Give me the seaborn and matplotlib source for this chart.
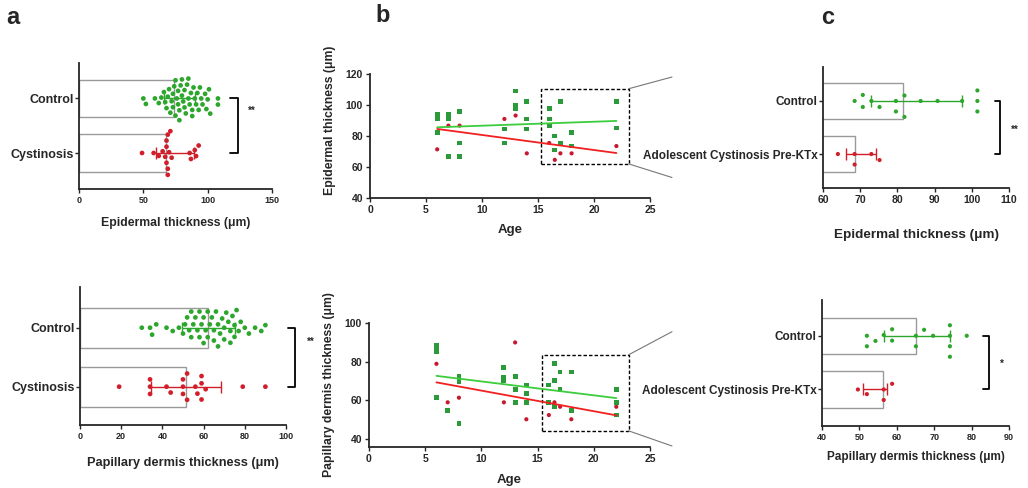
import numpy as np
import pandas as pd
import matplotlib
matplotlib.use("Agg")
import matplotlib.pyplot as plt
import seaborn as sns
from matplotlib.patches import Rectangle, ConnectionPatch

# ! Datos --------------------------------------------------------------------

grupos_a = ["Control", "Cystinosis"]
grupos_c = ["Control", "Adolescent Cystinosis Pre-KTx"]

# ? a) grosor epidermico (um)
epi_control = [50, 52, 59, 62, 64, 66, 67, 68, 69, 70, 71, 72, 73, 73, 74, 75, 75, 76, 77, 77,
               78, 78, 79, 80, 80, 81, 82, 82, 83, 84, 85, 85, 86, 87, 88, 88, 89, 90, 91, 92,
               93, 94, 95, 96, 98, 99, 100, 101, 102, 108, 108]
epi_cyst = [49, 58, 62, 65, 67, 68, 68, 68, 69, 69, 69, 70, 71, 72, 86, 87, 90, 91, 93]
epi_barra = [74, 68]
epi_err_lo = [66, 60]
epi_err_hi = [90, 89.6]

# ? a) grosor dermis papilar (um)
pap_control = [30, 34, 35, 37, 42, 45, 48, 50, 51, 52, 53, 54, 54, 55, 56, 57, 58, 58, 59, 60,
               60, 61, 62, 62, 63, 64, 65, 65, 66, 67, 67, 68, 69, 70, 70, 71, 72, 73, 73, 74,
               75, 75, 76, 77, 78, 80, 82, 85, 88, 90]
pap_cyst = [19, 34, 34, 34, 42, 44, 50, 50, 50, 52, 52, 56, 57, 59, 59, 59, 61, 79, 90]
pap_barra = [62, 51.3]
pap_err_lo = [49.4, 34.4]
pap_err_hi = [75, 68.3]

# ? b) grosor vs edad
edad_ctrl_epi = [6, 6, 6, 7, 7, 7, 8, 8, 8, 12, 12, 13, 13, 13, 14, 14, 14, 16, 16, 16,
                 16.5, 16.5, 17, 17, 18, 18, 22, 22]
epi_ctrl_b = [94.1, 91, 82.2, 94.1, 91, 66.6, 95.8, 75.5, 66.6, 84.5, 75.5, 109, 99.7, 97.7,
              102, 91, 84.5, 97.7, 91, 86.5, 80, 71, 102, 75.5, 82.2, 73.5, 102, 85.2]
edad_cyst = [6, 7, 8, 12, 13, 14, 16, 16.5, 17, 18, 22]
epi_cyst_b = [71.4, 86.7, 86.7, 91, 93.2, 68.8, 75.5, 64.6, 68.8, 68.8, 73.5]

edad_ctrl_pap = [6, 6, 6, 6, 7, 8, 8, 8, 8, 12, 12, 12, 13, 13, 13, 14, 14, 14, 16, 16,
                 16.5, 16.5, 16.5, 17, 17, 18, 18, 22, 22, 22]
pap_ctrl_b = [88.3, 86.6, 85, 61.2, 54.4, 72.5, 70.8, 69.4, 47.8, 76.9, 72, 70, 72.2, 65.6,
              58.8, 67.8, 63.5, 58.8, 67.8, 58.8, 78.8, 70, 56.5, 74.6, 65.6, 74.6, 54.4,
              65.6, 58.8, 52.2]
pap_cyst_b = [78.8, 58.8, 61.2, 58.8, 89.9, 50, 52.2, 58.8, 56.5, 50, 56.5]

# ? c) adolescentes
epi_ctrl_c = [68.5, 70.7, 70.7, 73, 75.2, 79.6, 79.6, 81.9, 81.9, 86.25, 90.8, 97.4,
              101.5, 101.5, 101.5]
epi_cyst_c = [64, 68.5, 68.5, 73, 75.2]
epi_barra_c = [81.6, 68.5]
epi_err_lo_c = [73, 66.25]
epi_err_hi_c = [97.4, 74.3]

pap_ctrl_c = [52, 52, 54.3, 56.5, 58.75, 58.75, 65.1, 65.1, 67.3, 69.7, 74.2, 74.2, 74.2,
              74.2, 78.7]
pap_cyst_c = [49.6, 52, 56.5, 56.5, 58.75]
pap_barra_c = [65.1, 56.3]
pap_err_lo_c = [56.5, 51]
pap_err_hi_c = [74.2, 57.5]

# ! Estilo ----------------------------------------------------------------------

sns.set_style("ticks")
plt.rcParams["font.family"] = ["Liberation Sans", "DejaVu Sans"]
plt.rcParams["font.weight"] = "bold"
plt.rcParams["axes.labelweight"] = "bold"
plt.rcParams["axes.linewidth"] = 1.3

verde = "#2da62d"
rojo = "#d01f2a"
verde_b = "#2a9a3a"
rojo_b = "#c81830"
gris = "#9a9a9a"

W, H = 1028, 488
fig = plt.figure(figsize=(W / 100, H / 100), dpi=100)


def nuevo_eje(izq, arriba, der, abajo):
    return fig.add_axes([izq / W, 1 - abajo / H, (der - izq) / W, (abajo - arriba) / H])


def panel_barras(ax, grupos, ctrl, cyst, barra, lo, hi, tam, borde):
    df = pd.DataFrame({"valor": ctrl + cyst,
                       "grupo": [grupos[0]] * len(ctrl) + [grupos[1]] * len(cyst)})
    sns.barplot(x=barra, y=grupos, orient="h", order=grupos, color="white", edgecolor=gris,
                linewidth=1, width=0.68, saturation=1, errorbar=None, ax=ax)
    colores = [verde, rojo]
    for i in range(2):
        ax.errorbar(x=barra[i], y=i, xerr=[[barra[i] - lo[i]], [hi[i] - barra[i]]],
                    fmt="none", ecolor=colores[i], elinewidth=1, capsize=4.5, capthick=1,
                    zorder=2.5)
    # el borde invisible solo separa los puntos del enjambre
    sns.swarmplot(data=df, x="valor", y="grupo", hue="grupo", order=grupos, hue_order=grupos,
                  palette=colores, size=tam, linewidth=borde, edgecolor="none",
                  legend=False, ax=ax)
    ax.set_ylabel("")
    sns.despine(ax=ax)


def corchete(ax, x0, x1, texto, xt, yt, fs):
    ax.plot([x0, x1, x1, x0], [0, 0, 1, 1], color="black", lw=1.3, clip_on=False)
    ax.text(xt, yt, texto, ha="center", va="center", fontsize=fs)


# ! Panel a ----------------------------------------------------------------------

ax1 = nuevo_eje(79, 63, 272, 189)
panel_barras(ax1, grupos_a, epi_control, epi_cyst, epi_barra, epi_err_lo, epi_err_hi, 3.4, 0.8)
ax1.set_xlim(0, 150)
ax1.set_xticks([0, 50, 100, 150])
ax1.set_ylim(1.66, -0.65)
ax1.tick_params(axis="x", labelsize=6.5, length=3, width=1, pad=2)
ax1.tick_params(axis="y", labelsize=9, length=3, width=1, pad=1)
ax1.set_xlabel("Epidermal thickness (μm)", fontsize=8.8, va="top")
ax1.xaxis.set_label_coords(0.5, -0.22)
corchete(ax1, 117.4, 123.6, "**", 134.5, 0.23, 7)

ax2 = nuevo_eje(80, 287, 286, 425)
panel_barras(ax2, grupos_a, pap_control, pap_cyst, pap_barra, pap_err_lo, pap_err_hi, 3.4, 1.6)
ax2.set_xlim(0, 100)
ax2.set_xticks([0, 20, 40, 60, 80, 100])
ax2.set_ylim(1.65, -0.69)
ax2.tick_params(axis="x", labelsize=6.5, length=3, width=1, pad=2)
ax2.tick_params(axis="y", labelsize=9, length=3, width=1, pad=1)
ax2.set_xlabel("Papillary dermis thickness (μm)", fontsize=9.2, va="top")
ax2.xaxis.set_label_coords(0.5, -0.23)
corchete(ax2, 101.1, 104.5, "**", 111.8, 0.24, 7)

# ! Panel b ----------------------------------------------------------------------

ax3 = nuevo_eje(370, 74, 650, 198)
sns.scatterplot(x=edad_cyst, y=epi_cyst_b, marker="o", color=rojo_b, s=9, edgecolor="none", ax=ax3)
sns.scatterplot(x=edad_ctrl_epi, y=epi_ctrl_b, marker="s", color=verde_b, s=12, edgecolor="none", ax=ax3)
sns.regplot(x=edad_ctrl_epi, y=epi_ctrl_b, scatter=False, ci=None, color="#3ccc3c",
            line_kws={"lw": 1.3}, ax=ax3)
sns.regplot(x=edad_cyst, y=epi_cyst_b, scatter=False, ci=None, color="#f02020",
            line_kws={"lw": 1.3}, ax=ax3)
ax3.set_xlim(0, 25)
ax3.set_ylim(40, 120)
ax3.set_xticks([0, 5, 10, 15, 20, 25])
ax3.set_yticks([40, 60, 80, 100, 120])
ax3.tick_params(labelsize=7.5, length=3, width=1, pad=2)
ax3.set_xlabel("Age", fontsize=9.5, va="top")
ax3.xaxis.set_label_coords(0.5, -0.21)
ax3.set_ylabel("Epidermal thickness (μm)", fontsize=8.8)
ax3.yaxis.set_label_coords(-0.12, 0.63)
sns.despine(ax=ax3)
ax3.add_patch(Rectangle((15.3, 62), 7.8, 48.5, fill=False, ls=(0, (2.5, 1.5)), lw=1,
                        color="black", clip_on=False))
for yb, yf in [(110.5, 77), (62, 177.5)]:
    fig.add_artist(ConnectionPatch(xyA=(23.1, yb), coordsA="data", axesA=ax3,
                                   xyB=(672, H - yf), coordsB="figure pixels",
                                   color="#777777", lw=0.8))

ax4 = nuevo_eje(369, 323, 650, 447)
sns.scatterplot(x=edad_cyst, y=pap_cyst_b, marker="o", color=rojo_b, s=9, edgecolor="none", ax=ax4)
sns.scatterplot(x=edad_ctrl_pap, y=pap_ctrl_b, marker="s", color=verde_b, s=12, edgecolor="none", ax=ax4)
sns.regplot(x=edad_ctrl_pap, y=pap_ctrl_b, scatter=False, ci=None, color="#3ccc3c",
            line_kws={"lw": 1.3}, ax=ax4)
sns.regplot(x=edad_cyst, y=pap_cyst_b, scatter=False, ci=None, color="#f02020",
            line_kws={"lw": 1.3}, ax=ax4)
ax4.set_xlim(0, 25)
ax4.set_ylim(35.6, 100)
ax4.set_xticks([0, 5, 10, 15, 20, 25])
ax4.set_yticks([40, 60, 80, 100])
ax4.tick_params(labelsize=7.5, length=3, width=1, pad=2)
ax4.set_xlabel("Age", fontsize=9.5, va="top")
ax4.xaxis.set_label_coords(0.5, -0.218)
ax4.set_ylabel("Papillary dermis thickness (μm)", fontsize=8.8)
ax4.yaxis.set_label_coords(-0.12, 0.5)
sns.despine(ax=ax4)
ax4.add_patch(Rectangle((15.4, 44), 7.7, 39.5, fill=False, ls=(0, (2.5, 1.5)), lw=1,
                        color="black", clip_on=False))
for yb, yf in [(83.5, 331.7), (44, 446)]:
    fig.add_artist(ConnectionPatch(xyA=(23.1, yb), coordsA="data", axesA=ax4,
                                   xyB=(672, H - yf), coordsB="figure pixels",
                                   color="#777777", lw=0.8))

# ! Panel c ----------------------------------------------------------------------

ax5 = nuevo_eje(823, 67, 1009, 188)
panel_barras(ax5, grupos_c, epi_ctrl_c, epi_cyst_c, epi_barra_c, epi_err_lo_c, epi_err_hi_c, 3.0, 4.2)
ax5.set_xlim(60, 110)
ax5.set_xticks([60, 70, 80, 90, 100, 110])
ax5.set_ylim(1.64, -0.64)
ax5.tick_params(axis="x", labelsize=7.5, length=3, width=1, pad=2)
ax5.tick_params(axis="y", labelsize=8.5, length=3, width=1, pad=1)
ax5.set_xlabel("Epidermal thickness (μm)", fontsize=9.7, va="top")
ax5.xaxis.set_label_coords(0.5, -0.34)
corchete(ax5, 106.2, 107.7, "**", 111.6, 0.54, 7)

ax6 = nuevo_eje(822, 300, 1009, 426)
panel_barras(ax6, grupos_c, pap_ctrl_c, pap_cyst_c, pap_barra_c, pap_err_lo_c, pap_err_hi_c, 3.0, 4.2)
ax6.set_xlim(40, 90)
ax6.set_xticks([40, 50, 60, 70, 80, 90])
ax6.set_ylim(1.68, -0.666)
ax6.tick_params(axis="x", labelsize=6.5, length=3, width=1, pad=2)
ax6.tick_params(axis="y", labelsize=8.5, length=3, width=1, pad=1)
ax6.set_xlabel("Papillary dermis thickness (μm)", fontsize=8.5, va="top")
ax6.xaxis.set_label_coords(0.5, -0.196)
corchete(ax6, 83.0, 84.7, "*", 88.1, 0.53, 7)

# ? letras de panel
for letra, xp, yp in [("a", 13, 17), ("b", 383, 16), ("c", 828, 18)]:
    fig.text(xp / W, 1 - yp / H, letra, ha="center", va="center", fontsize=17, fontweight="bold")

fig.savefig("out.png", dpi=100)
